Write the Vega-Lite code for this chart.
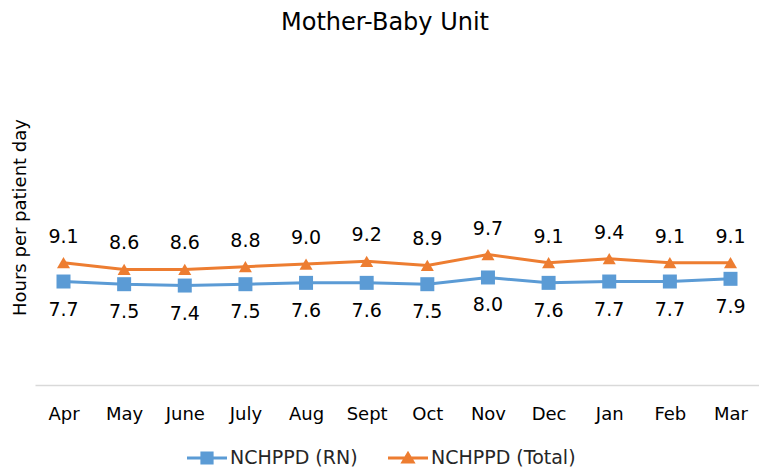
{
  "$schema": "https://vega.github.io/schema/vega-lite/v6.json",
  "width": 724,
  "height": 336,
  "autosize": {"type": "none"},
  "padding": {"left": 35, "top": 49, "right": 0, "bottom": 84},
  "title": {"text": "Mother-Baby Unit", "font": "DejaVu Sans", "fontSize": 24, "fontWeight": "normal", "color": "#000000", "offset": 14, "dx": -12},
  "config": {"view": {"stroke": null}, "font": "DejaVu Sans"},
  "data": {"values": [
    {"month": "Apr", "series": "NCHPPD (RN)", "value": 7.7},
    {"month": "May", "series": "NCHPPD (RN)", "value": 7.5},
    {"month": "June", "series": "NCHPPD (RN)", "value": 7.4},
    {"month": "July", "series": "NCHPPD (RN)", "value": 7.5},
    {"month": "Aug", "series": "NCHPPD (RN)", "value": 7.6},
    {"month": "Sept", "series": "NCHPPD (RN)", "value": 7.6},
    {"month": "Oct", "series": "NCHPPD (RN)", "value": 7.5},
    {"month": "Nov", "series": "NCHPPD (RN)", "value": 8.0},
    {"month": "Dec", "series": "NCHPPD (RN)", "value": 7.6},
    {"month": "Jan", "series": "NCHPPD (RN)", "value": 7.7},
    {"month": "Feb", "series": "NCHPPD (RN)", "value": 7.7},
    {"month": "Mar", "series": "NCHPPD (RN)", "value": 7.9},
    {"month": "Apr", "series": "NCHPPD (Total)", "value": 9.1},
    {"month": "May", "series": "NCHPPD (Total)", "value": 8.6},
    {"month": "June", "series": "NCHPPD (Total)", "value": 8.6},
    {"month": "July", "series": "NCHPPD (Total)", "value": 8.8},
    {"month": "Aug", "series": "NCHPPD (Total)", "value": 9.0},
    {"month": "Sept", "series": "NCHPPD (Total)", "value": 9.2},
    {"month": "Oct", "series": "NCHPPD (Total)", "value": 8.9},
    {"month": "Nov", "series": "NCHPPD (Total)", "value": 9.7},
    {"month": "Dec", "series": "NCHPPD (Total)", "value": 9.1},
    {"month": "Jan", "series": "NCHPPD (Total)", "value": 9.4},
    {"month": "Feb", "series": "NCHPPD (Total)", "value": 9.1},
    {"month": "Mar", "series": "NCHPPD (Total)", "value": 9.1}
  ]},
  "encoding": {
    "x": {
      "field": "month", "type": "ordinal",
      "sort": ["Apr", "May", "June", "July", "Aug", "Sept", "Oct", "Nov", "Dec", "Jan", "Feb", "Mar"],
      "scale": {"type": "point", "padding": 0.47},
      "axis": {"title": null, "domainColor": "#d9d9d9", "domainWidth": 1.3, "ticks": false, "labelPadding": 20, "labelFontSize": 18, "labelColor": "#000000", "labelFont": "DejaVu Sans", "labelAngle": 0}
    },
    "y": {
      "field": "value", "type": "quantitative",
      "scale": {"domain": [0, 25]},
      "axis": {"title": "Hours per patient day", "titleFontSize": 18, "titleFontWeight": "normal", "titleColor": "#000000", "titleFont": "DejaVu Sans", "labels": false, "ticks": false, "domain": false, "grid": false, "titlePadding": 6}
    }
  },
  "layer": [
    {
      "mark": {"type": "line", "strokeWidth": 3},
      "encoding": {
        "color": {
          "field": "series", "type": "nominal",
          "scale": {"domain": ["NCHPPD (RN)", "NCHPPD (Total)"], "range": ["#5B9BD5", "#ED7D31"]},
          "legend": null
        }
      }
    },
    {
      "mark": {"type": "point", "filled": true, "opacity": 1},
      "encoding": {
        "color": {
          "field": "series", "type": "nominal",
          "scale": {"domain": ["NCHPPD (RN)", "NCHPPD (Total)"], "range": ["#5B9BD5", "#ED7D31"]},
          "legend": null
        },
        "shape": {"field": "series", "type": "nominal", "scale": {"domain": ["NCHPPD (RN)", "NCHPPD (Total)"], "range": ["square", "triangle-up"]}, "legend": null},
        "size": {"field": "series", "type": "nominal", "scale": {"domain": ["NCHPPD (RN)", "NCHPPD (Total)"], "range": [196, 170]}, "legend": null}
      }
    },
    {
      "transform": [{"filter": "datum.series == 'NCHPPD (Total)'"}],
      "mark": {"type": "text", "dy": -26, "fontSize": 19, "font": "DejaVu Sans", "baseline": "middle", "color": "#000000"},
      "encoding": {"text": {"field": "value", "type": "quantitative", "format": ".1f"}}
    },
    {
      "transform": [{"filter": "datum.series == 'NCHPPD (RN)'"}],
      "mark": {"type": "text", "dy": 28, "fontSize": 19, "font": "DejaVu Sans", "baseline": "middle", "color": "#000000"},
      "encoding": {"text": {"field": "value", "type": "quantitative", "format": ".1f"}}
    },
    {
      "transform": [{"filter": "false"}],
      "mark": {"type": "point", "filled": true, "opacity": 1},
      "encoding": {
        "fill": {
          "field": "series", "type": "nominal",
          "scale": {"domain": ["NCHPPD (RN)", "NCHPPD (Total)"], "range": ["#5B9BD5", "#ED7D31"]},
          "legend": {
            "title": null, "orient": "none", "legendX": 152, "legendY": 389, "direction": "horizontal",
            "symbolSize": 1600, "labelFontSize": 19, "labelFont": "DejaVu Sans", "labelColor": "#262626",
            "columnPadding": 30, "labelOffset": 3, "symbolStrokeWidth": 0, "symbolFillColor": "#5B9BD5"
          }
        },
        "shape": {
          "field": "series", "type": "nominal",
          "scale": {"domain": ["NCHPPD (RN)", "NCHPPD (Total)"], "range": ["M-1,-0.075H1V0.075H-1Z M-0.33,-0.33H0.33V0.33H-0.33Z", "M-1,-0.075H1V0.075H-1Z M0,-0.36L0.38,0.28H-0.38Z"]},
          "legend": {
            "title": null, "orient": "none", "legendX": 152, "legendY": 389, "direction": "horizontal",
            "symbolSize": 1600, "labelFontSize": 19, "labelFont": "DejaVu Sans", "labelColor": "#262626",
            "columnPadding": 30, "labelOffset": 3, "symbolStrokeWidth": 0, "symbolFillColor": "#5B9BD5"
          }
        }
      }
    }
  ],
  "resolve": {"scale": {"shape": "independent", "size": "independent", "fill": "independent"}}
}
